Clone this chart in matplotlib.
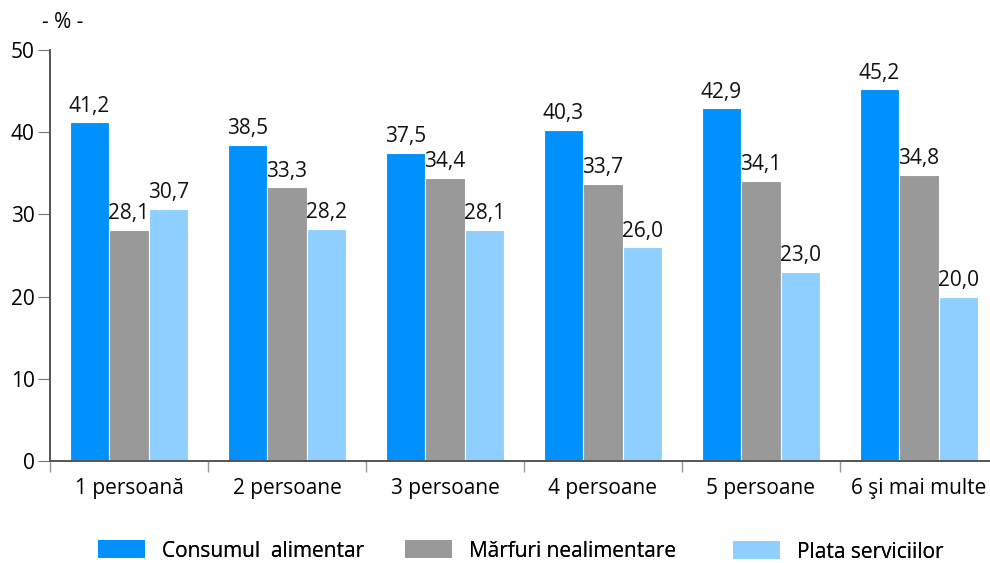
import numpy as np
import matplotlib.pyplot as plt
from matplotlib.patches import Patch

# === DATA ===
categories = ["1 persoană", "2 persoane", "3 persoane", "4 persoane", "5 persoane", "6 şi mai multe"]
series_names = ["Consumul  alimentar", "Mărfuri nealimentare", "Plata serviciilor"]
alimentar = [41.2, 38.5, 37.5, 40.3, 42.9, 45.2]
nealimentare = [28.1, 33.3, 34.4, 33.7, 34.1, 34.8]
servicii = [30.7, 28.2, 28.1, 26.0, 23.0, 20.0]
yticks = [0, 10, 20, 30, 40, 50]

colors = ["#0091FF", "#999999", "#8ECFFF"]
plt.rcParams['font.family'] = ['Open Sans', 'DejaVu Sans']
FS = 15

fig = plt.figure(figsize=(9.9, 5.63), dpi=100)
ax = fig.add_axes([50 / 990, 102 / 563, 948 / 990, 411 / 563])

x = np.arange(len(categories))
width = 0.25
for i, (vals, col) in enumerate(zip([alimentar, nealimentare, servicii], colors)):
    pos = x + (i - 1) * width
    ax.bar(pos, vals, width, color=col, edgecolor='white', linewidth=0.8)
    for p, v in zip(pos, vals):
        ax.text(p, v + 0.7, f"{v:.1f}".replace('.', ','), ha='center', va='bottom',
                fontsize=FS, color='#111111')

ax.set_xlim(-0.5, len(categories) - 0.5)
ax.set_ylim(0, 50)
ax.set_yticks(yticks)
ax.set_yticklabels([str(t) for t in yticks], fontsize=FS)

# group boundaries as major ticks, labels at group centres
ax.set_xticks(np.arange(len(categories) + 1) - 0.5)
ax.set_xticklabels([])
ax.set_xticks(x, minor=True)
ax.set_xticklabels(categories, minor=True, fontsize=FS)
ax.tick_params(axis='x', which='major', length=8, color='#999999', width=1)
ax.tick_params(axis='x', which='minor', length=0, pad=12)
ax.tick_params(axis='y', length=9, color='#777777', width=0.8, pad=2)

for s in ['top', 'right']:
    ax.spines[s].set_visible(False)
for s in ['left', 'bottom']:
    ax.spines[s].set_color('#555555')
    ax.spines[s].set_linewidth(1.4)

fig.text(63 / 990, 1 - 22 / 563, "- % -", ha='center', va='center', fontsize=FS)

# legend entries placed individually, as in the reference
leg_x = [98 / 990, 405 / 990, 733 / 990]
leg_y = [12 / 563, 12 / 563, 11 / 563]
for name, col, lx, ly in zip(series_names, colors, leg_x, leg_y):
    leg = fig.legend([Patch(facecolor=col, edgecolor='none')], [name],
                     loc='center left', bbox_to_anchor=(lx, ly), frameon=False,
                     fontsize=FS, handlelength=2.25, handleheight=0.95,
                     handletextpad=0.8, borderpad=0, borderaxespad=0)
    fig.add_artist(leg)

fig.savefig("out.png", dpi=100)
